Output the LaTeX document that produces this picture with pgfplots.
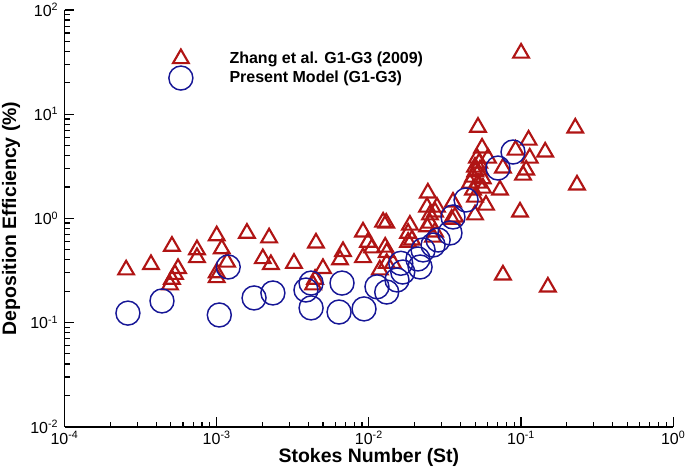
\documentclass[border=0pt]{standalone}
\usepackage{pgfplots}
\pgfplotsset{compat=1.18}
\usepackage{fontspec}
\setmainfont{Liberation Sans}
\definecolor{tri}{RGB}{176,20,20}
\definecolor{cir}{RGB}{22,22,150}
\begin{document}
\begin{tikzpicture}
\begin{axis}[
  scale only axis, width=456.6pt, height=312.5pt,
  xmode=log, ymode=log,
  xmin=1e-4, xmax=1, ymin=1e-2, ymax=1e2,
  axis x line*=bottom, axis y line*=left,
  axis line style={line width=1.4pt, -},
  tick align=inside,
  major tick length=7.5pt, minor tick length=3.8pt,
  every tick/.style={black, line width=0.9pt},
  xtick={1e-4,1e-3,1e-2,1e-1,1},
  xticklabels={10\textsuperscript{-4},10\textsuperscript{-3},10\textsuperscript{-2},10\textsuperscript{-1},10\textsuperscript{0}},
  ytick={1e-2,1e-1,1,1e1,1e2},
  yticklabels={10\textsuperscript{-2},10\textsuperscript{-1},10\textsuperscript{0},10\textsuperscript{1},10\textsuperscript{2}},
  xticklabel style={font=\fontsize{12}{14}\selectfont, inner sep=0pt, anchor=north, yshift=-3.4pt},
  yticklabel style={font=\fontsize{12}{14}\selectfont, inner sep=0pt, anchor=east, xshift=-4.5pt},
  xlabel={Stokes Number (St)},
  ylabel={Deposition Efficiency (\%)},
  every axis x label/.style={at={(axis description cs:0.5,-0.0871)}, anchor=base, font=\bfseries\fontsize{14.6}{16}\selectfont},
  every axis y label/.style={at={(axis description cs:-0.0797,0.5)}, rotate=90, anchor=base, font=\bfseries\fontsize{14.6}{16}\selectfont},
  legend style={draw=none, fill=none, at={(0.171,0.857)}, anchor=west, inner sep=0pt,
    font=\bfseries\fontsize{12}{14}\selectfont, row sep=-1.5pt, column sep=25.5pt},
  legend cell align=left,
  clip=false,
]
\addplot[only marks, mark=triangle, mark size=6.8pt, color=tri, line width=1.6pt] table {
x y
2.54e-4 0.32
3.70e-4 0.36
5.08e-4 0.54
5.57e-4 0.33
5.32e-4 0.29
5.08e-4 0.26
4.93e-4 0.23
7.42e-4 0.50
7.42e-4 0.42
1.00e-3 0.68
1.08e-3 0.51
1.17e-3 0.38
1.00e-3 0.30
1.00e-3 0.27
1.58e-3 0.72
2.21e-3 0.65
2.01e-3 0.41
2.27e-3 0.36
3.22e-3 0.37
4.49e-3 0.58
4.99e-3 0.33
4.43e-3 0.26
4.30e-3 0.23
6.76e-3 0.48
6.46e-3 0.40
9.15e-3 0.74
1.24e-2 0.92
1.30e-2 0.90
9.86e-3 0.59
1.05e-2 0.52
9.15e-3 0.42
1.28e-2 0.53
1.31e-2 0.47
1.31e-2 0.37
1.18e-2 0.32
1.44e-2 0.37
1.86e-2 0.86
1.81e-2 0.72
1.92e-2 0.62
1.81e-2 0.59
2.41e-2 1.28
2.80e-2 1.28
2.52e-2 1.08
2.52e-2 0.90
2.41e-2 0.83
2.72e-2 0.74
2.64e-2 0.66
2.44e-2 1.75
2.72e-2 1.15
3.57e-2 1.43
3.68e-2 1.03
3.50e-2 0.98
5.21e-2 7.5
5.54e-2 4.73
5.13e-2 3.79
4.98e-2 3.10
4.83e-2 2.49
5.21e-2 2.18
4.83e-2 1.87
4.98e-2 1.60
5.37e-2 2.91
5.62e-2 1.95
4.62e-2 2.18
6.06e-2 3.79
5.88e-2 1.34
5.00e-2 2.80
5.30e-2 3.40
5.60e-2 2.40
7.27e-2 1.87
4.98e-2 1.08
9.84e-2 1.15
0.100 38.6
0.227 7.36
0.112 5.64
0.144 4.33
0.092 4.52
0.114 3.79
0.108 2.91
0.103 2.60
0.076 3.04
0.233 2.09
0.076 0.286
0.150 0.219
};
\addlegendentry{Zhang et al. G1-G3 (2009)}
\addplot[only marks, mark=o, mark size=9pt, color=cir, line width=1.1pt] table {
x y
2.61e-4 0.123
4.37e-4 0.161
1.04e-3 0.118
1.19e-3 0.341
1.76e-3 0.172
2.34e-3 0.192
3.86e-3 0.205
4.17e-3 0.239
4.17e-3 0.138
6.66e-3 0.239
6.37e-3 0.126
9.29e-3 0.135
1.13e-2 0.22
1.31e-2 0.196
1.53e-2 0.256
1.67e-2 0.305
1.62e-2 0.37
2.10e-2 0.407
2.17e-2 0.341
2.27e-2 0.497
2.64e-2 0.554
2.85e-2 0.619
3.41e-2 0.723
3.57e-2 1.03
4.35e-2 1.50
7.05e-2 3.04
8.85e-2 4.33
};
\addlegendentry{Present Model (G1-G3)}
\coordinate (bl) at (rel axis cs:0,0);
\coordinate (tr) at (rel axis cs:1,1);
\end{axis}
\pgfresetboundingbox
\useasboundingbox ([shift={(-48.4pt,-31pt)}]bl) rectangle ([shift={(8.8pt,7.5pt)}]tr);
\end{tikzpicture}
\end{document}
